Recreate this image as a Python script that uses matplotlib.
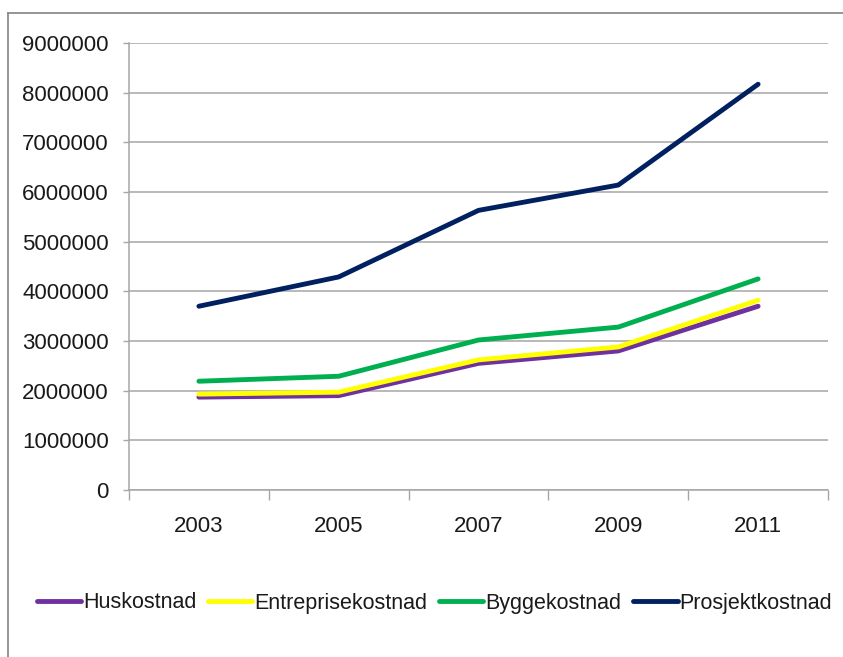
import matplotlib
matplotlib.use("Agg")
import matplotlib.pyplot as plt
from matplotlib.lines import Line2D

plt.rcParams['font.family'] = ['Liberation Sans', 'DejaVu Sans']

years = ['2003', '2005', '2007', '2009', '2011']
series_names = ['Huskostnad', 'Entreprisekostnad', 'Byggekostnad', 'Prosjektkostnad']
huskostnad = [1870000, 1900000, 2550000, 2800000, 3700000]
entreprisekostnad = [1930000, 1970000, 2620000, 2880000, 3820000]
byggekostnad = [2190000, 2290000, 3020000, 3280000, 4250000]
prosjektkostnad = [3700000, 4290000, 5630000, 6140000, 8170000]
y_ticks = [0, 1000000, 2000000, 3000000, 4000000, 5000000, 6000000, 7000000, 8000000, 9000000]

colors = ['#7030A0', '#FFFF00', '#00B050', '#002060']
values = [huskostnad, entreprisekostnad, byggekostnad, prosjektkostnad]

W, H = 843, 657
fig = plt.figure(figsize=(W / 100, H / 100), dpi=100)
ax = fig.add_axes([129 / W, 1 - 490 / H, (828 - 129) / W, (490 - 43) / H])

x = list(range(len(years)))
for name, vals, c in zip(series_names, values, colors):
    ax.plot(x, vals, color=c, lw=3.5, label=name, solid_capstyle='round', solid_joinstyle='round')

ax.set_xlim(-0.5, len(years) - 0.5)
ax.set_ylim(0, 9000000)
ax.set_yticks(y_ticks)
ax.set_yticklabels([str(v) for v in y_ticks])
ax.yaxis.grid(True, color='#A6A6A6', lw=1.1)
ax.set_axisbelow(True)

ax.set_xticks([i - 0.5 for i in range(len(years) + 1)])
ax.set_xticklabels([])
ax.set_xticks(x, minor=True)
ax.set_xticklabels(years, minor=True)
ax.tick_params(axis='x', which='major', length=7, width=1, color='#A6A6A6', direction='out')
ax.tick_params(axis='x', which='minor', length=0, pad=19, labelsize=16, labelcolor='#1a1a1a')
ax.tick_params(axis='y', length=4.5, width=1, color='#A6A6A6', pad=10, labelsize=16, labelcolor='#1a1a1a')

for s in ['top', 'right']:
    ax.spines[s].set_visible(False)
for s in ['left', 'bottom']:
    ax.spines[s].set_color('#A6A6A6')
    ax.spines[s].set_linewidth(1.1)

# outer chart frame
fig.add_artist(Line2D([8 / W, 8 / W], [0, 1 - 13 / H], transform=fig.transFigure, color='#8C8C8C', lw=1.3))
fig.add_artist(Line2D([8 / W, 1], [1 - 13 / H, 1 - 13 / H], transform=fig.transFigure, color='#8C8C8C', lw=1.3))

leg = fig.legend(loc='center', bbox_to_anchor=(434.5 / W, 1 - 603 / H), ncol=4, frameon=False,
                 fontsize=15.5, handlelength=2.05, handletextpad=0.1, columnspacing=0.55,
                 labelcolor='#1a1a1a')

fig.savefig('out.png', dpi=100)
